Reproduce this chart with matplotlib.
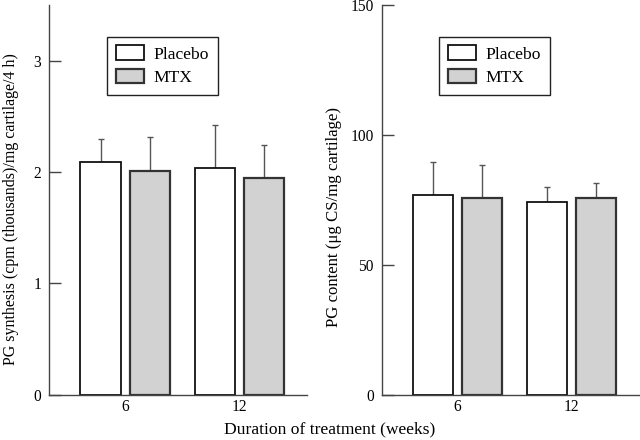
import matplotlib
matplotlib.use("Agg")
import matplotlib.pyplot as plt
import numpy as np

weeks = ["6", "12"]
series = ["Placebo", "MTX"]
synth_placebo = [2.09, 2.04]
synth_placebo_err = [0.21, 0.38]
synth_mtx = [2.01, 1.95]
synth_mtx_err = [0.30, 0.29]
content_placebo = [77.0, 74.2]
content_placebo_err = [12.5, 5.6]
content_mtx = [75.7, 75.7]
content_mtx_err = [12.7, 5.8]

plt.rcParams['font.family'] = ['Liberation Serif', 'DejaVu Serif']
FS = 12.6
TFS = 11.2

W, H = 640, 440
fig = plt.figure(figsize=(6.4, 4.4), dpi=100)

def px_axes(x0, x1, y0, y1):
    return fig.add_axes([x0 / W, 1 - y1 / H, (x1 - x0) / W, (y1 - y0) / H])

ax1 = px_axes(49.3, 307, 5, 394.7)
ax2 = px_axes(381.7, 639, 5, 394.7)

x = np.arange(len(weeks))
bw = 0.355
off = 0.215
grey = '#d2d2d2'

def draw(ax, pv, pe, mv, me, ylim, yticks, leg_left):
    ax.bar(x - off, pv, bw, color='white', edgecolor='#111111', linewidth=1.3,
           label=series[0], zorder=2)
    ax.bar(x + off, mv, bw, color=grey, edgecolor='#333333', linewidth=1.6,
           label=series[1], zorder=2)
    ax.errorbar(x - off, pv, yerr=[np.zeros(len(pv)), pe], fmt='none',
                ecolor='#555555', elinewidth=1.0, capsize=2.2, capthick=1.0, zorder=1)
    ax.errorbar(x + off, mv, yerr=[np.zeros(len(mv)), me], fmt='none',
                ecolor='#555555', elinewidth=1.0, capsize=2.2, capthick=1.0, zorder=1)
    ax.set_xlim(-0.665, 1.592)
    ax.set_ylim(*ylim)
    ax.set_yticks(yticks)
    ax.set_xticks(x)
    ax.set_xticklabels(weeks)
    for s in ['top', 'right']:
        ax.spines[s].set_visible(False)
    for s in ['left', 'bottom']:
        ax.spines[s].set_color('#444444')
        ax.spines[s].set_linewidth(1.0)
    ax.tick_params(axis='y', direction='in', length=8.6, width=1.0,
                   color='#444444', pad=5.8, labelsize=TFS)
    ax.tick_params(axis='x', length=0, pad=3.2, labelsize=TFS)
    leg = ax.legend(loc='upper left', bbox_to_anchor=(leg_left, 1 - (36.7 - 5) / 389.7),
                    borderaxespad=0, fancybox=False, edgecolor='#222222',
                    framealpha=1, fontsize=FS, handlelength=1.58, handleheight=0.86,
                    handletextpad=0.57, borderpad=0.5, labelspacing=0.38)
    leg.get_frame().set_linewidth(1.0)

draw(ax1, synth_placebo, synth_placebo_err, synth_mtx, synth_mtx_err,
     (0, 3.5), [0, 1, 2, 3], (107.3 - 49.3) / 257.7)
draw(ax2, content_placebo, content_placebo_err, content_mtx, content_mtx_err,
     (0, 150), [0, 50, 100, 150], (439.3 - 381.7) / 257.3)

fig.text(11 / W, 1 - 209 / H, "PG synthesis (cpm (thousands)/mg cartilage/4 h)",
         rotation=90, ha='center', va='center', fontsize=11.5)
fig.text(334 / W, 1 - 217 / H, "PG content (\u03bcg CS/mg cartilage)",
         rotation=90, ha='center', va='center', fontsize=12.1)
fig.text(330 / W, 1 - 429 / H, "Duration of treatment (weeks)",
         ha='center', va='center', fontsize=FS)

fig.savefig("out.png", dpi=100)
